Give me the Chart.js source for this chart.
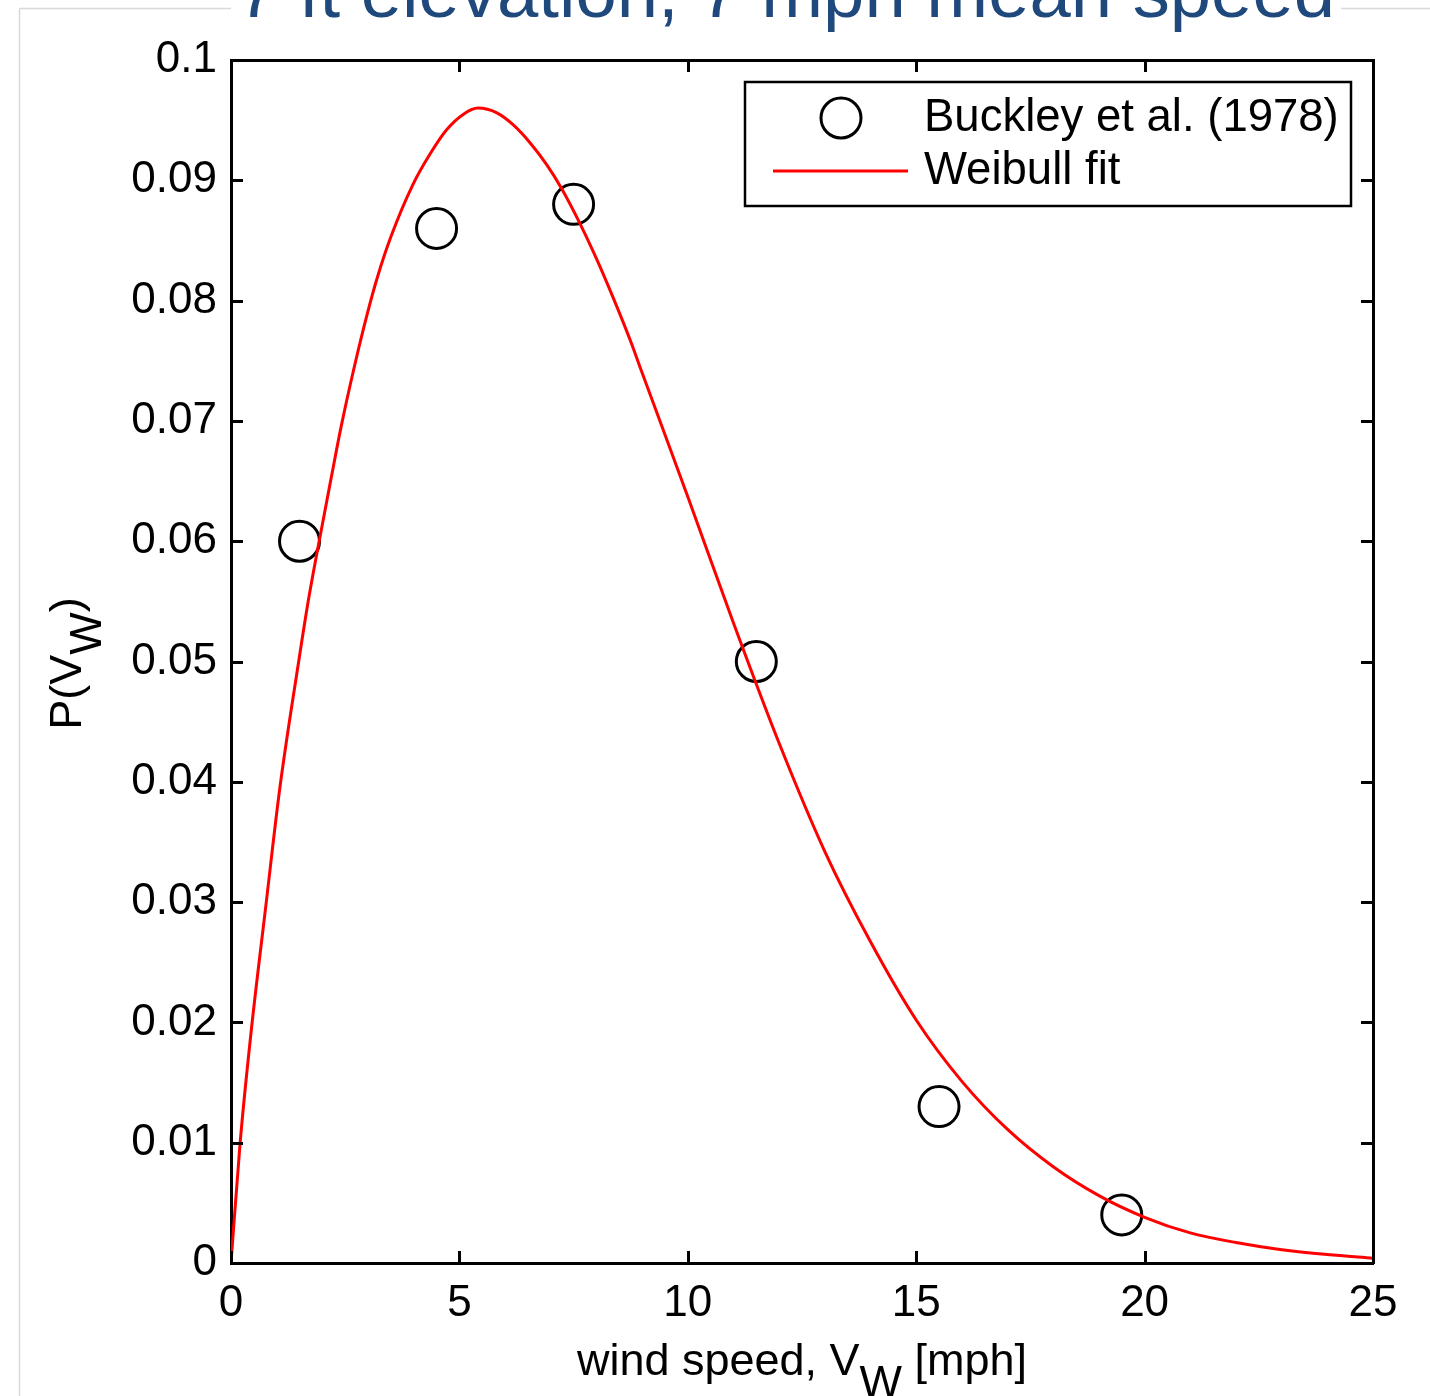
<!DOCTYPE html>
<html><head><meta charset="utf-8">
<script src="https://cdn.jsdelivr.net/npm/chart.js@4/dist/chart.umd.min.js"></script>
<style>html,body{margin:0;padding:0;background:#fff;overflow:hidden}#wrap{position:absolute;left:0;top:0;width:1430px;height:1396px}</style>
</head><body><div id="wrap"><canvas id="c" width="1430" height="1396"></canvas></div>
<script>
const titleText = "7 ft elevation, 7 mph mean speed";
const xAxisTitle = ["wind speed, V", "W", " [mph]"];
const yAxisTitle = ["P(V", "W", ")"];
const seriesNames = ["Buckley et al. (1978)", "Weibull fit"];
const dataSpeed = [1.5, 4.5, 7.5, 11.5, 15.5, 19.5];
const dataProb = [0.060, 0.086, 0.088, 0.050, 0.013, 0.004];
const fitSpeed = [0, 0.2, 0.44, 0.76, 1.07, 1.49, 1.69, 1.93, 2.19, 2.41, 2.7, 2.99, 3.21, 3.5, 3.99, 4.36, 4.72, 5.09, 5.41, 5.82, 6.18, 6.55, 6.91, 7.24, 7.64, 8.01, 8.37, 8.74, 9, 10, 11, 12, 13, 14, 15, 16, 17, 18, 19, 20, 21, 22, 23, 24, 25];
const fitProb = [0, 0.010, 0.0192, 0.0296, 0.0395, 0.0502, 0.0550, 0.060, 0.0652, 0.0695, 0.0745, 0.0790, 0.0820, 0.0853, 0.0897, 0.0922, 0.0942, 0.0955, 0.0960, 0.0956, 0.0946, 0.0931, 0.0913, 0.0893, 0.0864, 0.0834, 0.0802, 0.0767, 0.0740, 0.0637, 0.0532, 0.0432, 0.0342, 0.0267, 0.0202, 0.0151, 0.0111, 0.0080, 0.0056, 0.0038, 0.0025, 0.0017, 0.0011, 0.0007, 0.0004];
const xRange = [0, 25], xStep = 5;
const yRange = [0, 0.1], yStep = 0.01;

const FONT = "'Liberation Sans', Arial, Helvetica, sans-serif";
const fitPoints = fitSpeed.map((v, i) => ({x: v, y: fitProb[i]}));
const dataPoints = dataSpeed.map((v, i) => ({x: v, y: dataProb[i]}));

function drawParts(c, parts, x, y, sub, align) {
  const widths = parts.map(p => c.measureText(p).width);
  const total = widths.reduce((a, b) => a + b, 0);
  let px = align === 'center' ? x - total / 2 : x;
  parts.forEach((p, i) => {
    c.fillText(p, px, i === 1 ? y + sub : y);
    px += widths[i];
  });
}

const decor = {
  id: 'decor',
  beforeDraw(chart) {
    const c = chart.ctx;
    c.save();
    c.fillStyle = '#fff';
    c.fillRect(0, 0, chart.width, chart.height);
    c.strokeStyle = '#d9d9d9';
    c.lineWidth = 1.5;
    c.beginPath();
    c.moveTo(19.5, 8.5); c.lineTo(chart.width, 8.5);
    c.moveTo(19.5, 8.5); c.lineTo(19.5, chart.height);
    c.stroke();
    // title (partly cut off at the top)
    c.font = `72px ${FONT}`;
    const w = c.measureText(titleText).width;
    const left = 237, target = 1098;
    c.fillStyle = '#fff';
    c.fillRect(left - 6, 0, target + 12, 34);
    c.translate(left, 17);
    c.scale(target / w, 1);
    c.fillStyle = '#1f497d';
    c.textBaseline = 'alphabetic';
    c.textAlign = 'left';
    c.fillText(titleText, 0, 0);
    c.restore();
  },
  afterDraw(chart) {
    const c = chart.ctx, a = chart.chartArea;
    const xs = chart.scales.x, ys = chart.scales.y;
    c.save();
    // inward ticks on all four sides
    c.strokeStyle = '#000';
    c.lineWidth = 3;
    const L = 12;
    c.beginPath();
    xs.ticks.forEach(t => {
      const px = Math.round(xs.getPixelForValue(t.value)) + 0.5;
      c.moveTo(px, a.bottom); c.lineTo(px, a.bottom - L);
      c.moveTo(px, a.top); c.lineTo(px, a.top + L);
    });
    ys.ticks.forEach(t => {
      const py = Math.round(ys.getPixelForValue(t.value)) + 0.5;
      c.moveTo(a.left, py); c.lineTo(a.left + L, py);
      c.moveTo(a.right, py); c.lineTo(a.right - L, py);
    });
    c.stroke();

    // legend
    const bw = 606, bh = 124;
    const bx = a.right - 22 - bw, by = a.top + 22;
    c.fillStyle = '#fff';
    c.fillRect(bx, by, bw, bh);
    c.lineWidth = 2.5;
    c.strokeStyle = '#000';
    c.strokeRect(bx, by, bw, bh);
    const row1 = by + 36, row2 = by + 89;
    c.beginPath();
    c.lineWidth = 3;
    c.arc(bx + 96, row1, 20, 0, Math.PI * 2);
    c.stroke();
    c.beginPath();
    c.strokeStyle = '#ff0000';
    c.lineWidth = 3;
    c.moveTo(bx + 28, row2); c.lineTo(bx + 163, row2);
    c.stroke();
    c.fillStyle = '#000';
    c.font = `45.5px ${FONT}`;
    c.textBaseline = 'middle';
    c.textAlign = 'left';
    c.fillText(seriesNames[0], bx + 179, row1);
    c.fillText(seriesNames[1], bx + 179, row2);

    // axis titles
    c.textBaseline = 'alphabetic';
    c.font = `45px ${FONT}`;
    drawParts(c, xAxisTitle, (a.left + a.right) / 2, 1375, 22, 'center');
    c.save();
    c.translate(81, (a.top + a.bottom) / 2 + 2);
    c.rotate(-Math.PI / 2);
    drawParts(c, yAxisTitle, 0, 0, 20, 'center');
    c.restore();
    c.restore();
  }
};

new Chart(document.getElementById('c'), {
  type: 'scatter',
  data: {
    datasets: [
      {
        label: seriesNames[1], data: fitPoints, showLine: true,
        borderColor: '#ff0000', borderWidth: 3, pointRadius: 0,
        cubicInterpolationMode: 'monotone', fill: false, order: 0
      },
      {
        label: seriesNames[0], data: dataPoints, showLine: false,
        pointStyle: 'circle', pointRadius: 20, pointBorderWidth: 3,
        pointBorderColor: '#000', pointBackgroundColor: 'rgba(0,0,0,0)', order: 1
      }
    ]
  },
  options: {
    responsive: false, animation: false, devicePixelRatio: 1,
    layout: {padding: 0},
    plugins: {legend: {display: false}, tooltip: {enabled: false}, title: {display: false}},
    scales: {
      x: {
        type: 'linear', position: 'bottom', min: xRange[0], max: xRange[1],
        ticks: {stepSize: xStep, color: '#000', font: {family: FONT, size: 44}, padding: 14, maxRotation: 0, autoSkip: false},
        grid: {display: true, drawOnChartArea: false, drawTicks: false},
        border: {display: true, color: '#000', width: 3},
        afterFit(s) { s.height = 133; }
      },
      x2: {
        type: 'linear', position: 'top', min: xRange[0], max: xRange[1],
        ticks: {display: false, stepSize: xStep},
        grid: {display: true, drawOnChartArea: false, drawTicks: false},
        border: {display: true, color: '#000', width: 3},
        afterFit(s) { s.height = 60; }
      },
      y: {
        type: 'linear', position: 'left', min: yRange[0], max: yRange[1],
        ticks: {stepSize: yStep, color: '#000', font: {family: FONT, size: 44}, padding: 14,
          callback: v => String(+v.toFixed(2))},
        grid: {display: true, drawOnChartArea: false, drawTicks: false},
        border: {display: true, color: '#000', width: 3},
        afterFit(s) { s.width = 231; }
      },
      y2: {
        type: 'linear', position: 'right', min: yRange[0], max: yRange[1],
        ticks: {display: false, stepSize: yStep},
        grid: {display: true, drawOnChartArea: false, drawTicks: false},
        border: {display: true, color: '#000', width: 3},
        afterFit(s) { s.width = 57; }
      }
    }
  },
  plugins: [decor]
});
</script>
</body></html>
